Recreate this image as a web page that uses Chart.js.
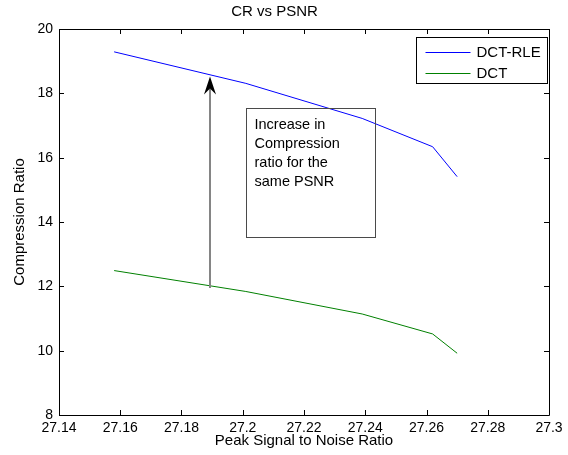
<!DOCTYPE html>
<html>
<head>
<meta charset="utf-8">
<script src="https://cdn.jsdelivr.net/npm/chart.js@4.4.1/dist/chart.umd.min.js"></script>
<style>
  html, body { margin: 0; padding: 0; background: #ffffff; }
  #c { display: block; }
</style>
</head>
<body>
<canvas id="c" width="568" height="455"></canvas>
<script>
// ---- data ----
const seriesNames = ['DCT-RLE', 'DCT'];
const psnrRLE = [27.158, 27.201, 27.239, 27.262, 27.270];
const crRLE   = [19.29, 18.31, 17.22, 16.34, 15.41];
const psnrDCT = [27.158, 27.201, 27.239, 27.262, 27.270];
const crDCT   = [12.49, 11.84, 11.14, 10.52, 9.92];

const xTicks = [27.14, 27.16, 27.18, 27.2, 27.22, 27.24, 27.26, 27.28, 27.3];
const xTickLabels = ['27.14', '27.16', '27.18', '27.2', '27.22', '27.24', '27.26', '27.28', '27.3'];
const yTicks = [8, 10, 12, 14, 16, 18, 20];
const yTickLabels = ['8', '10', '12', '14', '16', '18', '20'];

const titleText = 'CR vs PSNR';
const xTitle = 'Peak Signal to Noise Ratio';
const yTitle = 'Compression Ratio';

// annotation (in data coordinates)
const noteLines = ['Increase in', 'Compression', 'ratio for the', 'same PSNR'];
const noteBox = { x0: 27.2011, x1: 27.2432, y0: 13.544, y1: 17.554 };
const arrowPts = { x: 27.1893, yFrom: 11.95, yTo: 18.52 };

const FONT = '"Liberation Sans", Arial, Helvetica, sans-serif';

function toXY(xs, ys) { return xs.map((x, i) => ({ x: x, y: ys[i] })); }

const matlabPlugin = {
  id: 'matlabPlugin',
  afterDatasetsDraw(chart) {
    const ctx = chart.ctx;
    const a = chart.chartArea;
    const xs = chart.scales.x, ys = chart.scales.y;
    ctx.save();
    // axes box
    ctx.strokeStyle = '#000';
    ctx.lineWidth = 1;
    ctx.beginPath();
    ctx.rect(Math.round(a.left) + 0.5, Math.round(a.top) + 0.5,
             Math.round(a.right - a.left), Math.round(a.bottom - a.top));
    ctx.stroke();
    // inside ticks on all sides
    const tl = 5;
    ctx.beginPath();
    xTicks.forEach(v => {
      const px = Math.round(xs.getPixelForValue(v)) + 0.5;
      ctx.moveTo(px, a.bottom); ctx.lineTo(px, a.bottom - tl);
      ctx.moveTo(px, a.top); ctx.lineTo(px, a.top + tl);
    });
    yTicks.forEach(v => {
      const py = Math.round(ys.getPixelForValue(v)) + 0.5;
      ctx.moveTo(a.left, py); ctx.lineTo(a.left + tl, py);
      ctx.moveTo(a.right, py); ctx.lineTo(a.right - tl, py);
    });
    ctx.stroke();

    // annotation text box
    const bx0 = Math.round(xs.getPixelForValue(noteBox.x0)) + 0.5;
    const bx1 = Math.round(xs.getPixelForValue(noteBox.x1)) + 0.5;
    const by0 = Math.round(ys.getPixelForValue(noteBox.y1)) + 0.5;
    const by1 = Math.round(ys.getPixelForValue(noteBox.y0)) + 0.5;
    ctx.strokeStyle = '#4a4a4a';
    ctx.lineWidth = 1;
    ctx.strokeRect(bx0, by0, bx1 - bx0, by1 - by0);
    ctx.fillStyle = '#000';
    ctx.font = '14.5px ' + FONT;
    ctx.textAlign = 'left';
    ctx.textBaseline = 'middle';
    noteLines.forEach((t, i) => {
      ctx.fillText(t, bx0 + 8, by0 + 16 + i * 19);
    });

    // arrow
    const ax = Math.round(xs.getPixelForValue(arrowPts.x));
    const ayFrom = ys.getPixelForValue(arrowPts.yFrom);
    const ayTo = ys.getPixelForValue(arrowPts.yTo);
    ctx.strokeStyle = '#858585';
    ctx.lineWidth = 2;
    ctx.beginPath();
    ctx.moveTo(ax, ayFrom);
    ctx.lineTo(ax, ayTo + 12);
    ctx.stroke();
    ctx.fillStyle = '#000';
    ctx.beginPath();
    ctx.moveTo(ax, ayTo);
    ctx.lineTo(ax - 6, ayTo + 18);
    ctx.lineTo(ax, ayTo + 12);
    ctx.lineTo(ax + 6, ayTo + 18);
    ctx.closePath();
    ctx.fill();

    // legend (inside, top-right)
    const ds = chart.data.datasets;
    const lw = 131, lh = 46;
    const lx = Math.round(a.right) - 2 - lw + 0.5;
    const ly = Math.round(a.top) + 8 + 0.5;
    ctx.fillStyle = '#fff';
    ctx.fillRect(lx, ly, lw, lh);
    ctx.strokeStyle = '#000';
    ctx.lineWidth = 1;
    ctx.strokeRect(lx, ly, lw, lh);
    ctx.font = '15px ' + FONT;
    ctx.textBaseline = 'middle';
    ds.forEach((d, i) => {
      const yy = Math.round(ly + 14 + i * 21) + 0.5;
      ctx.strokeStyle = d.borderColor;
      ctx.lineWidth = 1;
      ctx.beginPath();
      ctx.moveTo(lx + 9, yy);
      ctx.lineTo(lx + 54, yy);
      ctx.stroke();
      ctx.fillStyle = '#000';
      ctx.fillText(d.label, lx + 60, yy);
    });
    ctx.restore();
  }
};

new Chart(document.getElementById('c'), {
  type: 'line',
  data: {
    datasets: [
      { label: seriesNames[0], data: toXY(psnrRLE, crRLE), borderColor: '#0000ff',
        borderWidth: 1, pointRadius: 0, fill: false, tension: 0 },
      { label: seriesNames[1], data: toXY(psnrDCT, crDCT), borderColor: '#008000',
        borderWidth: 1, pointRadius: 0, fill: false, tension: 0 }
    ]
  },
  options: {
    responsive: false,
    devicePixelRatio: 1,
    animation: false,
    layout: { padding: { left: 0, right: 19, top: 0, bottom: 0 } },
    plugins: {
      legend: { display: false },
      tooltip: { enabled: false },
      title: {
        display: true, text: titleText, color: '#000',
        font: { family: FONT, size: 15, weight: 'normal' },
        padding: { top: 3, bottom: 8 }
      }
    },
    scales: {
      x: {
        type: 'linear', min: 27.14, max: 27.3,
        afterBuildTicks: s => { s.ticks = xTicks.map(v => ({ value: v })); },
        afterFit: s => { s.height = 40; },
        grid: { display: false, drawTicks: false },
        border: { display: false },
        ticks: {
          color: '#000', font: { family: FONT, size: 14 }, padding: 5,
          maxRotation: 0, autoSkip: false,
          callback: (v, i) => xTickLabels[i]
        },
        title: {
          display: true, text: xTitle, color: '#000',
          font: { family: FONT, size: 15 }, padding: { top: 0, bottom: 5 }
        }
      },
      y: {
        type: 'linear', min: 8, max: 20,
        afterBuildTicks: s => { s.ticks = yTicks.map(v => ({ value: v })); },
        afterFit: s => { s.width = 59; },
        grid: { display: false, drawTicks: false },
        border: { display: false },
        ticks: {
          color: '#000', font: { family: FONT, size: 14 }, padding: 6,
          autoSkip: false,
          callback: (v, i) => yTickLabels[i]
        },
        title: {
          display: true, text: yTitle, color: '#000',
          font: { family: FONT, size: 15 }, padding: { top: 11, bottom: 0 }
        }
      }
    }
  },
  plugins: [matlabPlugin]
});
</script>
</body>
</html>
